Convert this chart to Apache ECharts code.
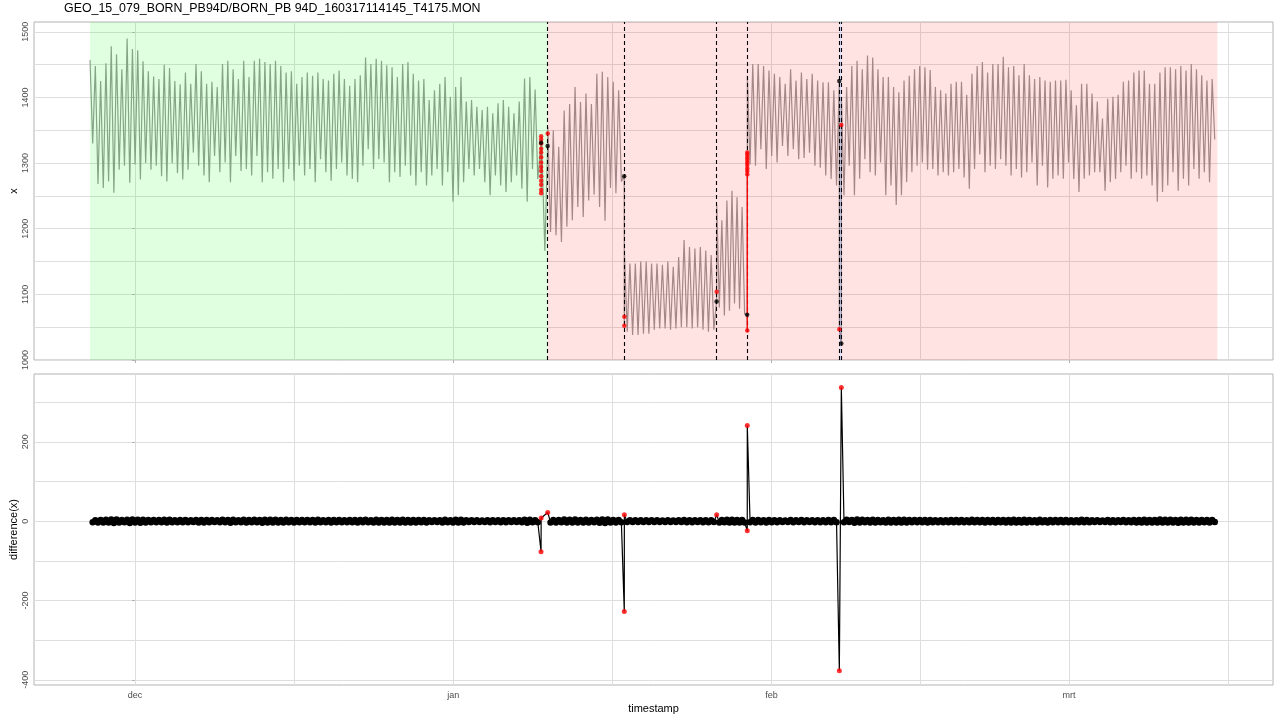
<!DOCTYPE html>
<html><head><meta charset="utf-8">
<script src="https://cdn.jsdelivr.net/npm/echarts@6/dist/echarts.min.js"></script>
<style>html,body{margin:0;padding:0;background:#fff}#c{width:1280px;height:720px}</style>
</head><body><div id="c"></div>
<script>
// ---------- texts & ticks (x in days since 2015-12-01) ----------
const titleText = 'GEO_15_079_BORN_PB94D/BORN_PB 94D_160317114145_T4175.MON';
const monthDays = [0, 31, 62, 91];
const monthLabels = ['dec', 'jan', 'feb', 'mrt'];
const midMonthDays = [15.5, 46.5, 76.5, 106.5];
const xTicks = [1000, 1100, 1200, 1300, 1400, 1500];
const xMinorTicks = [1050, 1150, 1250, 1350, 1450];
const diffTicks = [-400, -200, 0, 200];
const diffMinorTicks = [-300, -100, 100, 300];

// ---------- measured series: tidal highs / lows per cycle, per segment ----------
const segStart = [-4.38, 40.22, 47.69, 56.68, 59.66, 68.82];
const segEnd   = [39.50, 47.65, 56.66, 59.64, 68.61, 105.45];
const highsA = [1457,1448,1425,1452,1478,1466,1443,1490,1474,1472,1455,1440,1432,1428,1450,1445,1425,1420,1438,
  1421,1451,1440,1421,1424,1416,1451,1456,1443,1428,1456,1431,1456,1459,1454,1451,1456,1448,1438,1440,1421,1431,1438,1433,1438,1428,1426,1436,1441,1428,1418,1428,
  1434,1461,1451,1459,1456,1449,1446,1431,1451,1454,1436,1426,1428,1396,1411,1421,1431,1401,1416,1431,1394,1396,1386,1381,1386,1376,1391,1396,1386,1376,1394,1429,1431,1412];
const lowsA = [1330,1268,1262,1272,1255,1290,1296,1270,1298,1275,1300,1290,1296,1280,1272,1300,1285,1275,1290,
  1316,1296,1281,1271,1311,1286,1301,1271,1311,1288,1291,1281,1311,1271,1286,1276,1291,1271,1291,1273,1296,1281,1291,1271,1306,1286,1273,1291,1301,1281,1276,1271,
  1296,1321,1291,1306,1301,1271,1286,1279,1296,1281,1266,1286,1266,1281,1291,1266,1286,1241,1251,1271,1291,1281,1291,1271,1251,1281,1266,1256,1271,1281,1261,1241,1291,1276];
const highsB = [1355,1350,1325,1380,1390,1416,1393,1406,1390,1436,1439,1431,1424,1411];
const lowsB  = [1195,1190,1180,1203,1213,1233,1218,1243,1252,1233,1212,1262,1254,1272];
const highsC = [1160,1147,1147,1150,1150,1147,1147,1145,1150,1142,1157,1183,1172,1170,1172,1167,1160];
const lowsC  = [1043,1038,1038,1040,1040,1046,1048,1048,1046,1048,1050,1050,1048,1050,1046,1043,1046];
const highsD = [1236,1213,1243,1258,1248,1233];
const lowsD  = [1080,1068,1075,1086,1078,1070];
const highsE = [1433,1451,1451,1448,1441,1436,1431,1421,1443,1426,1438,1428,1436,1426,1423,1423,1411];
const lowsE  = [1298,1296,1321,1291,1311,1301,1326,1311,1321,1306,1308,1316,1296,1293,1281,1276,1266];
const highsF = [1401,1416,1448,1456,1443,1464,1461,1443,1431,1431,1416,1408,1426,1433,1443,1448,1446,
  1442,1416,1411,1406,1421,1424,1424,1404,1436,1448,1454,1438,1451,1451,1462,1446,1448,1434,1451,1434,1428,1431,1426,1424,1426,1426,1427,1411,1388,1421,
  1421,1406,1394,1368,1398,1401,1404,1424,1426,1438,1441,1441,1421,1421,1438,1446,1446,1443,1448,1441,1451,1443,1434,1426,1428];
const lowsF  = [1251,1296,1251,1276,1306,1286,1281,1301,1251,1266,1236,1251,1271,1286,1296,1301,1290,
  1291,1281,1286,1281,1286,1291,1278,1261,1291,1313,1286,1296,1291,1306,1296,1281,1291,1278,1286,1301,1266,1296,1263,1276,1281,1276,1301,1276,1256,1276,
  1281,1286,1286,1258,1271,1276,1286,1296,1276,1286,1276,1281,1266,1241,1256,1266,1286,1258,1276,1266,1291,1276,1286,1271,1336];

// ---------- samples around the level jumps ----------
const eventLineDays   = [39.56, 39.57, 39.60, 39.93, 40.20, 40.21, 47.66, 47.67, 47.675, 56.66, 56.67, 59.64, 59.65, 59.652, 59.655, 68.615, 68.62, 68.81, 68.815];
const eventLineValues = [1331, 1254, 1341, 1166, 1326, 1345, 1280, 1052, 1066, 1089, 1104, 1069, 1045, 1283, 1316, 1425, 1047, 1025, 1358];
const keptDays   = [39.56, 40.20, 47.66, 56.66, 59.64, 68.615, 68.81];
const keptValues = [1331, 1326, 1280, 1089, 1069, 1425, 1025];
const flagDays   = [39.57,39.57,39.57,39.57,39.57,39.57,39.57,39.57,39.57,39.57,39.57,39.57,39.57,39.57,
  40.21, 47.67, 47.675, 56.67, 59.65, 59.652,59.652,59.652,59.652,59.652,59.652,59.652,59.652,59.652, 68.62, 68.815];
const flagValues = [1254,1259,1267,1273,1280,1288,1294,1301,1309,1316,1322,1330,1336,1341,
  1345, 1052, 1066, 1104, 1045, 1283,1288,1292,1297,1301,1305,1309,1313,1316, 1047, 1358];
const redLinkDays   = [59.65, 59.652];
const redLinkValues = [1045, 1316];
const breakDays = [40.21, 47.67, 56.67, 59.65, 68.62, 68.81];
const regionStart = [-4.38, 40.21, 68.62, 68.81];
const regionEnd   = [40.21, 68.62, 68.81, 105.45];
const regionKind  = [0, 1, 2, 1];   // 0 = valid, 1 = suspect, 2 = gap

// ---------- difference(x) spikes ----------
const diffFlagDays   = [39.56, 39.57, 40.21, 47.67, 47.675, 56.67, 59.65, 59.652, 68.62, 68.815];
const diffFlagValues = [-77, 8, 22, -228, 16, 16, -24, 241, -377, 337];
const samplesPerHalfCycle = 50;

// ---------- build ----------
const highs = [highsA, highsB, highsC, highsD, highsE, highsF];
const lows  = [lowsA, lowsB, lowsC, lowsD, lowsE, lowsF];
const pts = [];
for (let s = 0; s < highs.length; s++) {
  const n = highs[s].length;
  const step = (segEnd[s] - segStart[s]) / n;
  for (let i = 0; i < n; i++) {
    pts.push({ d: segStart[s] + i * step, v: highs[s][i], ev: false });
    pts.push({ d: segStart[s] + (i + 0.5) * step, v: lows[s][i], ev: false });
  }
}
eventLineDays.forEach((d, i) => pts.push({ d: d, v: eventLineValues[i], ev: true }));
pts.sort((a, b) => a.d - b.d);
const lineData = pts.map(p => [p.d, p.v]);

const diffPts = [];
for (let i = 1; i < pts.length; i++) {
  if (pts[i].ev || pts[i - 1].ev) continue;
  diffPts.push({ value: [pts[i].d, (pts[i].v - pts[i - 1].v) / samplesPerHalfCycle] });
}
diffFlagDays.forEach((d, i) => diffPts.push({ value: [d, diffFlagValues[i]], symbol: 'none' }));
diffPts.sort((a, b) => a.value[0] - b.value[0]);

const regionData = regionStart.map((s, i) => [s, regionEnd[i], regionKind[i]]);
const regionFill = ['rgba(0,255,0,0.12)', 'rgba(255,0,0,0.115)', 'rgba(0,0,255,0.13)'];

const FONT = 'Liberation Sans, Arial, sans-serif';
const gridCol = '#dedede', borderCol = '#b3b3b3', labCol = '#4d4d4d';
const xMin = -9.84, xMax = 110.87;

function xMain(grid, showLabels) {
  return {
    type: 'value', gridIndex: grid, min: xMin, max: xMax,
    axisLine: { show: false },
    axisTick: { show: true, customValues: monthDays, length: 3, lineStyle: { color: borderCol } },
    axisLabel: { show: showLabels, customValues: monthDays, margin: 6, fontSize: 9, color: labCol, fontFamily: FONT,
      formatter: v => monthLabels[monthDays.indexOf(Math.round(v))] || '' },
    splitLine: { show: true, customValues: monthDays, lineStyle: { color: gridCol, width: 1 } },
    name: showLabels ? 'timestamp' : '', nameLocation: 'middle', nameGap: 18,
    nameTextStyle: { fontSize: 11, color: '#000', fontFamily: FONT }
  };
}
function xMinor(grid) {
  return {
    type: 'value', gridIndex: grid, min: xMin, max: xMax,
    axisLine: { show: false }, axisLabel: { show: false },
    axisTick: { show: false, customValues: midMonthDays },
    splitLine: { show: true, customValues: midMonthDays, lineStyle: { color: gridCol, width: 1 } }
  };
}
function yMain(grid, min, max, ticks, name) {
  return {
    type: 'value', gridIndex: grid, min: min, max: max,
    axisLine: { show: false },
    axisTick: { show: true, customValues: ticks, length: 3, lineStyle: { color: borderCol } },
    axisLabel: { show: true, customValues: ticks, rotate: 90, margin: 4, fontSize: 9, color: labCol, fontFamily: FONT,
      formatter: v => String(v) },
    splitLine: { show: true, customValues: ticks, lineStyle: { color: gridCol, width: 1 } },
    name: name, nameLocation: 'middle', nameGap: 15, nameRotate: 90, nameMoveOverlap: false,
    nameTextStyle: { fontSize: 11, color: '#000', fontFamily: FONT }
  };
}
function yMinor(grid, min, max, ticks) {
  return {
    type: 'value', gridIndex: grid, min: min, max: max,
    axisLine: { show: false }, axisLabel: { show: false },
    axisTick: { show: false, customValues: ticks },
    splitLine: { show: true, customValues: ticks, lineStyle: { color: gridCol, width: 1 } }
  };
}

const chart = echarts.init(document.getElementById('c'), null, { renderer: 'canvas' });
chart.setOption({
  animation: false,
  backgroundColor: '#fff',
  title: { text: titleText, left: 64, top: 3, padding: 0,
           textStyle: { fontSize: 12.4, fontWeight: 'normal', color: '#000', fontFamily: FONT } },
  grid: [
    { left: 34, top: 22, width: 1239, height: 338, containLabel: false, outerBoundsMode: 'none',
      show: true, borderColor: borderCol, borderWidth: 1, backgroundColor: 'transparent' },
    { left: 34, top: 374, width: 1239, height: 311, containLabel: false, outerBoundsMode: 'none',
      show: true, borderColor: borderCol, borderWidth: 1, backgroundColor: 'transparent' }
  ],
  xAxis: [xMain(0, false), xMinor(0), xMain(1, true), xMinor(1)],
  yAxis: [yMain(0, 1000, 1515, xTicks, 'x'), yMinor(0, 1000, 1515, xMinorTicks),
          yMain(1, -413, 371, diffTicks, 'difference(x)'), yMinor(1, -413, 371, diffMinorTicks)],
  series: [
    { type: 'line', xAxisIndex: 0, yAxisIndex: 0, data: lineData, symbol: 'none', z: 2,
      lineStyle: { color: '#999999', width: 1.2 }, silent: true },
    { type: 'custom', coordinateSystem: 'cartesian2d', xAxisIndex: 0, yAxisIndex: 0, z: 3, silent: true,
      data: regionData, encode: { x: [0, 1], y: 2 },
      renderItem: function (params, api) {
        const cs = params.coordSys;
        const x0 = api.coord([api.value(0), 1200])[0];
        const x1 = api.coord([api.value(1), 1200])[0];
        return { type: 'rect', shape: { x: x0, y: cs.y, width: x1 - x0, height: cs.height },
                 style: { fill: regionFill[api.value(2)] } };
      } },
    { type: 'line', xAxisIndex: 0, yAxisIndex: 0, z: 5, silent: true,
      data: redLinkDays.map((d, i) => [d, redLinkValues[i]]), symbol: 'none',
      lineStyle: { color: '#ff0000', width: 1.3 } },
    { type: 'scatter', xAxisIndex: 0, yAxisIndex: 0, z: 5, silent: true,
      data: flagDays.map((d, i) => [d, flagValues[i]]), symbol: 'circle', symbolSize: 4.5,
      itemStyle: { color: '#ff0000' } },
    { type: 'scatter', xAxisIndex: 0, yAxisIndex: 0, z: 6, silent: true,
      data: keptDays.map((d, i) => [d, keptValues[i]]), symbol: 'circle', symbolSize: 4.5,
      itemStyle: { color: '#000000' },
      markLine: { silent: true, symbol: 'none', label: { show: false }, animation: false,
        lineStyle: { color: '#000000', type: [4, 3], width: 1.1 },
        data: breakDays.map(d => ({ xAxis: d })) } },
    { type: 'line', xAxisIndex: 2, yAxisIndex: 2, z: 2, silent: true,
      data: diffPts, symbol: 'circle', symbolSize: 6.5, showAllSymbol: true,
      itemStyle: { color: '#000000' }, lineStyle: { color: '#000000', width: 1.2 } },
    { type: 'scatter', xAxisIndex: 2, yAxisIndex: 2, z: 5, silent: true,
      data: diffFlagDays.map((d, i) => [d, diffFlagValues[i]]), symbol: 'circle', symbolSize: 5,
      itemStyle: { color: '#ff0000' } }
  ]
});
</script></body></html>
